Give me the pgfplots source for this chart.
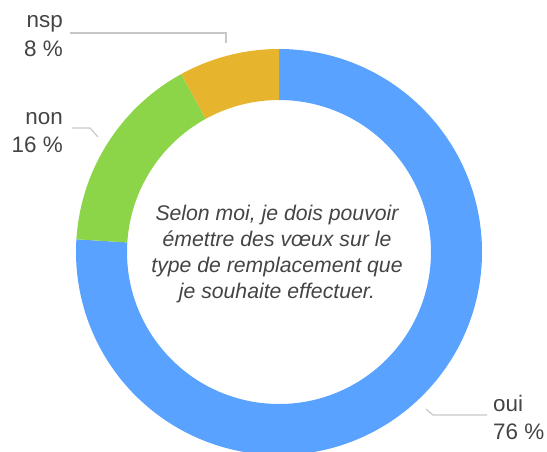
\documentclass[border=0pt]{standalone}
\usepackage{fontspec}
\setmainfont{Liberation Sans}
\usepackage{pgfplots}
\usepackage{pgfplotstable}
\pgfplotsset{compat=1.18}
\definecolor{cBlue}{HTML}{5AA2FF}
\definecolor{cGreen}{HTML}{8DD548}
\definecolor{cOrange}{HTML}{E6B52D}
\definecolor{cText}{HTML}{444444}
\definecolor{cLine}{HTML}{C8C8C8}
\pgfplotstableread{
label value
oui 76
non 16
nsp 8
}\piedata
\newcommand\ringseg[3]{%
  \fill[#1] ([shift={(#2:203bp)}]axis cs:279,200) arc[start angle=#2,end angle=#3,radius=203bp]
    -- ([shift={(#3:152bp)}]axis cs:279,200) arc[start angle=#3,end angle=#2,radius=152bp] -- cycle;}
\begin{document}
\begin{tikzpicture}
\pgfplotstablegetelem{0}{value}\of\piedata \let\vOui\pgfplotsretval
\pgfplotstablegetelem{1}{value}\of\piedata \let\vNon\pgfplotsretval
\pgfplotstablegetelem{2}{value}\of\piedata \let\vNsp\pgfplotsretval
\pgfmathsetmacro\aA{90}
\pgfmathsetmacro\aB{\aA-3.6*\vOui}
\pgfmathsetmacro\aC{\aB-3.6*\vNon}
\pgfmathsetmacro\aD{\aC-3.6*\vNsp}
\begin{axis}[hide axis, x=1bp, y=1bp, xmin=0, xmax=547, ymin=0, ymax=452, clip=false]
\ringseg{cBlue}{\aA}{\aB}
\ringseg{cGreen}{\aB}{\aC}
\ringseg{cOrange}{\aC}{\aD}
\draw[cLine, line width=1.2bp] (axis cs:70,419) -- (axis cs:226,419) -- (axis cs:226,409);
\draw[cLine, line width=1.2bp] (axis cs:72,324) -- (axis cs:90,324) -- (axis cs:98,315);
\draw[cLine, line width=1.2bp] (axis cs:426,43) -- (axis cs:433,37) -- (axis cs:487,37);
\node[anchor=base east, inner sep=0pt, text=cText, font=\fontsize{22.5}{26}\selectfont] at (axis cs:63,424) {nsp};
\node[anchor=base east, inner sep=0pt, text=cText, font=\fontsize{22.5}{26}\selectfont] at (axis cs:63,395) {8 \%};
\node[anchor=base east, inner sep=0pt, text=cText, font=\fontsize{22.5}{26}\selectfont] at (axis cs:63,327) {non};
\node[anchor=base east, inner sep=0pt, text=cText, font=\fontsize{22.5}{26}\selectfont] at (axis cs:63,299) {16 \%};
\node[anchor=base west, inner sep=0pt, text=cText, font=\fontsize{22.5}{26}\selectfont] at (axis cs:493,40) {oui};
\node[anchor=base west, inner sep=0pt, text=cText, font=\fontsize{22.5}{26}\selectfont] at (axis cs:493,12) {76 \%};
\node[align=center, inner sep=0pt, text=cText, font=\fontsize{21.3}{26}\selectfont\itshape] at (axis cs:277,198)
  {Selon moi, je dois pouvoir\\émettre des vœux sur le\\type de remplacement que\\je souhaite effectuer.};
\end{axis}
\pgfresetboundingbox
\path[use as bounding box] (0,0) rectangle (547bp,452bp);
\end{tikzpicture}
\end{document}
